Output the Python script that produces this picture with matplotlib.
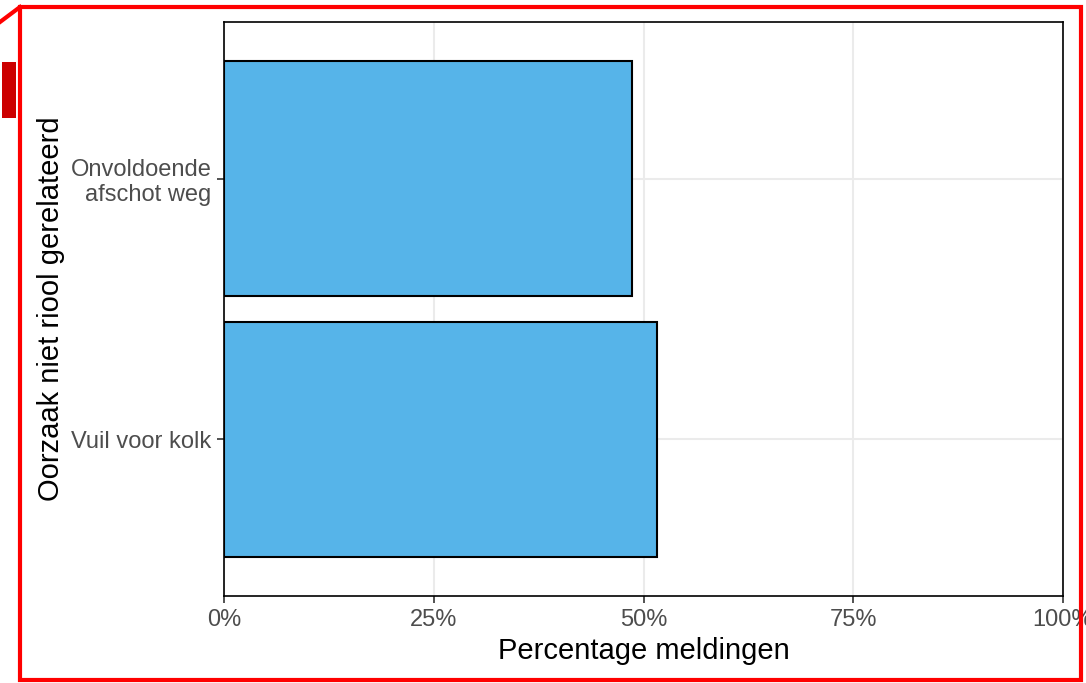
import matplotlib
matplotlib.use("Agg")
import matplotlib.pyplot as plt
from matplotlib.patches import Rectangle
from matplotlib.lines import Line2D
from matplotlib.ticker import FuncFormatter

categories = ["Vuil voor kolk", "Onvoldoende\nafschot weg"]
values = [0.516, 0.486]
x_ticks = [0, 0.25, 0.5, 0.75, 1.0]

plt.rcParams['font.family'] = ['Liberation Sans', 'DejaVu Sans']

W, H = 1086, 683
fig = plt.figure(figsize=(W / 100, H / 100), dpi=100)
fig.patch.set_facecolor('white')

ax = fig.add_axes([224 / W, 1 - 596 / H, (1063 - 224) / W, (596 - 22) / H])
ypos = list(range(1, len(categories) + 1))
ax.barh(ypos, values, height=0.9, color='#56B4E9', edgecolor='black', linewidth=1.5, zorder=3)
ax.set_xlim(0, 1)
ax.set_ylim(0.4, len(categories) + 0.6)
ax.set_yticks(ypos)
ax.set_yticklabels(categories, ha='right', multialignment='right')
ax.set_xticks(x_ticks)
ax.xaxis.set_major_formatter(FuncFormatter(lambda v, p: f"{v * 100:.0f}%"))
ax.grid(True, color='#EBEBEB', linewidth=1.5, zorder=0)
ax.set_axisbelow(True)
for s in ax.spines.values():
    s.set_color('black')
    s.set_linewidth(1.2)
ax.tick_params(axis='both', colors='#333333', labelcolor='#4D4D4D', labelsize=17,
               length=5, width=1.2)
ax.tick_params(axis='x', pad=4)
ax.tick_params(axis='y', pad=4)
ax.set_xlabel("Percentage meldingen", fontsize=21, color='black', labelpad=5)
ax.set_ylabel("Oorzaak niet riool gerelateerd", fontsize=21, color='black', labelpad=4)

# decoration: red frame (drawn on top)
fig.add_artist(Rectangle((20 / W, 1 - 680 / H), (1081 - 20) / W, (680 - 7) / H,
                         transform=fig.transFigure, fill=False, edgecolor='#FF0000',
                         linewidth=3, zorder=10))
fig.add_artist(Line2D([0, 20 / W], [1 - 22 / H, 1 - 7 / H], transform=fig.transFigure,
                      color='#FF0000', linewidth=3, zorder=10))
fig.add_artist(Rectangle((2 / W, 1 - 118 / H), 14 / W, 56 / H, transform=fig.transFigure,
                         facecolor='#CC0000', edgecolor='none', zorder=10))

fig.savefig("out.png", dpi=100, facecolor='white')
